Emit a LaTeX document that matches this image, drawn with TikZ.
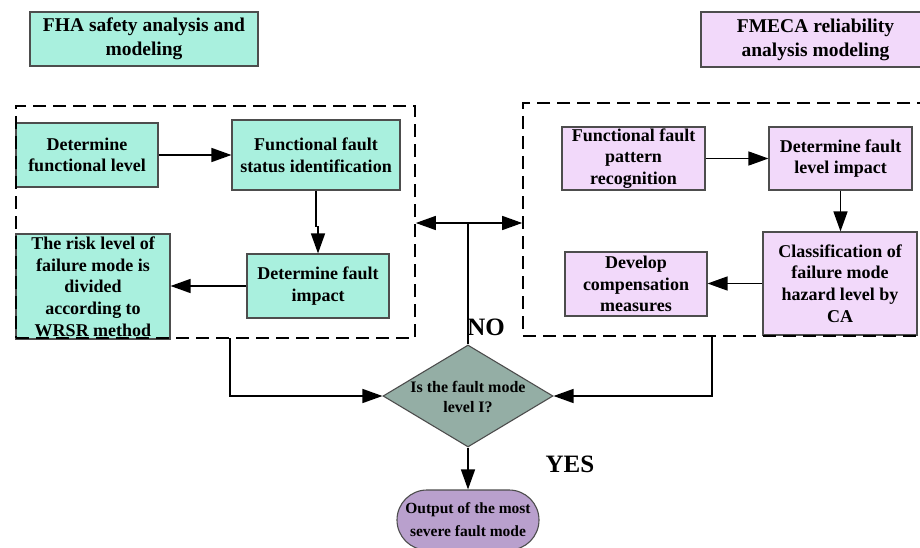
\documentclass[tikz,border=0pt]{standalone}
\usepackage{fontspec}
\setmainfont{Liberation Serif}
\usetikzlibrary{arrows.meta,shapes.geometric}

\definecolor{aquac}{HTML}{A9F0DE}
\definecolor{pinkc}{HTML}{F2D9FA}
\definecolor{decc}{HTML}{94AEA5}
\definecolor{outc}{HTML}{B9A0CD}
\definecolor{bordc}{HTML}{4D4D4D}

\newcommand{\bodyfont}{\bfseries\fontsize{18}{21.7}\selectfont}
\newcommand{\titlefont}{\bfseries\fontsize{19.5}{24}\selectfont}

\tikzset{
  box/.style={draw=bordc, line width=1.1pt, inner sep=0pt, align=center, font=\bodyfont},
  aquabox/.style={box, fill=aquac},
  pinkbox/.style={box, fill=pinkc},
  titlebox/.style={box, line width=1.6pt, font=\titlefont},
  grp/.style={draw=black, dash pattern=on 13pt off 7pt, line width=1.6pt, inner sep=0pt},
  arr/.style={line width=1.4pt, -{Triangle[length=20pt,width=14pt]}},
  link/.style={line width=1.4pt},
  verdict/.style={font=\bfseries\fontsize{25}{25}\selectfont, inner sep=0pt}
}

\begin{document}
\begin{tikzpicture}[x=1pt, y=-1pt]
\useasboundingbox (0,0) rectangle (920,548);

% titles of the two analysis branches
\node[titlebox, fill=aquac, minimum width=228, minimum height=54] (fha) at (144,39)
  {FHA safety analysis and\\modeling};
\node[titlebox, fill=pinkc, minimum width=229, minimum height=55] (fmeca) at (815.5,39.5)
  {FMECA reliability\\analysis modeling};

% FHA branch
\node[aquabox, minimum width=142, minimum height=64] (dfl) at (87,155)
  {Determine\\functional level};
\node[aquabox, minimum width=168, minimum height=70] (ffsi) at (316,155)
  {Functional fault\\status identification};
\node[aquabox, minimum width=142, minimum height=64] (dfi) at (318,286)
  {Determine fault\\impact};
\node[aquabox, minimum width=154, minimum height=105] (risk) at (93,286.5)
  {The risk level of\\failure mode is\\divided\\according to\\WRSR method};

% FMECA branch
\node[pinkbox, minimum width=143, minimum height=63] (ffpr) at (633.5,158.5)
  {Functional fault\\pattern\\recognition};
\node[pinkbox, minimum width=143, minimum height=63] (dfli) at (840.5,158.5)
  {Determine fault\\level impact};
\node[pinkbox, minimum width=154, minimum height=103] (cls) at (840,283.5)
  {Classification of\\failure mode\\hazard level by\\CA};
\node[pinkbox, minimum width=142, minimum height=64] (dcm) at (636,284)
  {Develop\\compensation\\measures};

% dashed group frames
\node[grp, minimum width=399, minimum height=232] (lgrp) at (215.5,222) {};
\node[grp, minimum width=417, minimum height=233] (rgrp) at (731.5,219.5) {};

% decision and result
\node[diamond, draw=bordc, line width=1.1pt, fill=decc, inner sep=0pt,
      minimum width=170, minimum height=102] (dia) at (468,396) {};
\node[font=\bfseries\fontsize{16}{20}\selectfont, align=center, inner sep=0pt] (diatext) at (468,397)
  {Is the fault mode\\level I?};
\node[box, fill=outc, rounded corners=30pt, minimum width=142, minimum height=60,
      font=\bfseries\fontsize{15.5}{23}\selectfont] (out) at (468,520)
  {Output of the most\\severe fault mode};

% connectors inside the branches
\draw[arr] (dfl.east) -- (ffsi.west);
\draw[arr] (ffsi.south) -- ++(0,36) -| (dfi.north);
\draw[arr] (dfi.west) -- (dfi.west -| risk.east);
\draw[arr] (ffpr.east) -- (ffpr.east -| dfli.west);
\draw[arr] (dfli.south) -- (dfli.south |- cls.north);
\draw[arr] (cls.west) -- (cls.west -| dcm.east);

% branches into the decision
\coordinate (ls) at (230,338);
\coordinate (rs) at (712,336);
\draw[arr] (ls) |- (dia.west);
\draw[arr] (rs) |- (dia.east);

% NO: back to both branches
\coordinate (j) at (468,223);
\draw[link] (dia.north) -- (j);
\draw[arr] (j) -- (j -| lgrp.east);
\draw[arr] (j) -- (j -| rgrp.west);

% YES: result
\draw[arr] (dia.south) -- (out.north);

\node[verdict] (no) at (486,327) {NO};
\node[verdict] (yes) at (570,464) {YES};
\end{tikzpicture}
\end{document}
